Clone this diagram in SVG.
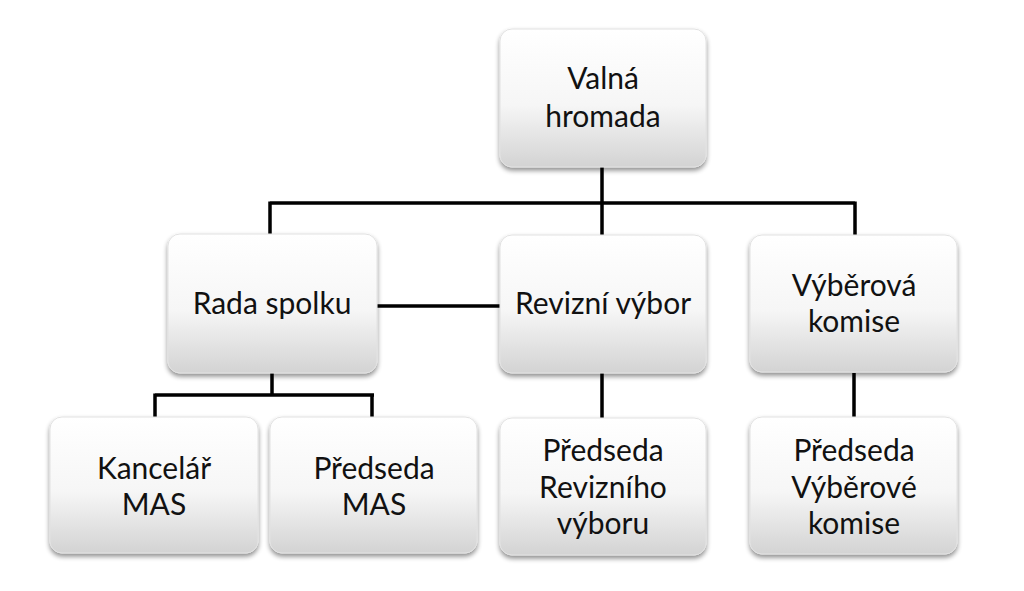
<svg xmlns="http://www.w3.org/2000/svg" width="1024" height="591" viewBox="0 0 1024 591">
<defs>
<linearGradient id="g" x1="0" y1="0" x2="0" y2="1">
<stop offset="0" stop-color="#ffffff"/>
<stop offset="0.55" stop-color="#f6f6f6"/>
<stop offset="1" stop-color="#d3d3d3"/>
</linearGradient>
<filter id="sh" x="-10%" y="-10%" width="120%" height="130%">
<feGaussianBlur in="SourceAlpha" stdDeviation="2.5"/>
<feOffset dx="0" dy="3" result="b"/>
<feComponentTransfer><feFuncA type="linear" slope="0.45"/></feComponentTransfer>
<feMerge><feMergeNode/><feMergeNode in="SourceGraphic"/></feMerge>
</filter>
</defs>
<style>
.box{fill:url(#g);stroke:#e2e2e2;stroke-width:1;filter:url(#sh)}
.t{font-family:Lato,"Open Sans","Liberation Sans",sans-serif;font-size:30px;fill:#111;text-anchor:middle}
.c{stroke:#000;stroke-width:3.5;fill:none}
</style>
<rect width="1024" height="591" fill="#fff"/>
<g id="connectors">
<path class="c" d="M602,167 V203 M270,203 H855 M270,201.5 V235 M602,203 V235 M855,201.5 V235"/>
<path class="c" d="M377,306 H500"/>
<path class="c" d="M272,373 V395 M155,395 H374 M155,393.5 V418 M372,393.5 V418"/>
<path class="c" d="M602,373 V418 M854,373 V418"/>
</g>
<g id="n1"><rect class="box" x="500" y="29" width="206" height="138" rx="12"/><text class="t" x="603" y="89">Valná</text><text class="t" x="603" y="127">hromada</text></g>
<g id="n2"><rect class="box" x="168" y="234" width="209" height="139" rx="12"/><text class="t" x="272" y="314">Rada spolku</text></g>
<g id="n3"><rect class="box" x="500" y="235" width="206" height="138" rx="12"/><text class="t" x="603" y="314">Revizní výbor</text></g>
<g id="n4"><rect class="box" x="750" y="235" width="207" height="137" rx="12"/><text class="t" x="854" y="296">Výběrová</text><text class="t" x="854" y="332">komise</text></g>
<g id="n5"><rect class="box" x="50" y="417" width="208" height="136" rx="12"/><text class="t" x="154" y="479">Kancelář</text><text class="t" x="154" y="515">MAS</text></g>
<g id="n6"><rect class="box" x="270" y="417" width="207" height="136" rx="12"/><text class="t" x="374" y="479">Předseda</text><text class="t" x="374" y="515">MAS</text></g>
<g id="n7"><rect class="box" x="500" y="418" width="206" height="137" rx="12"/><text class="t" x="603" y="461">Předseda</text><text class="t" x="603" y="498">Revizního</text><text class="t" x="603" y="534">výboru</text></g>
<g id="n8"><rect class="box" x="750" y="417" width="207" height="137" rx="12"/><text class="t" x="854" y="461">Předseda</text><text class="t" x="854" y="498">Výběrové</text><text class="t" x="854" y="534">komise</text></g>
</svg>
